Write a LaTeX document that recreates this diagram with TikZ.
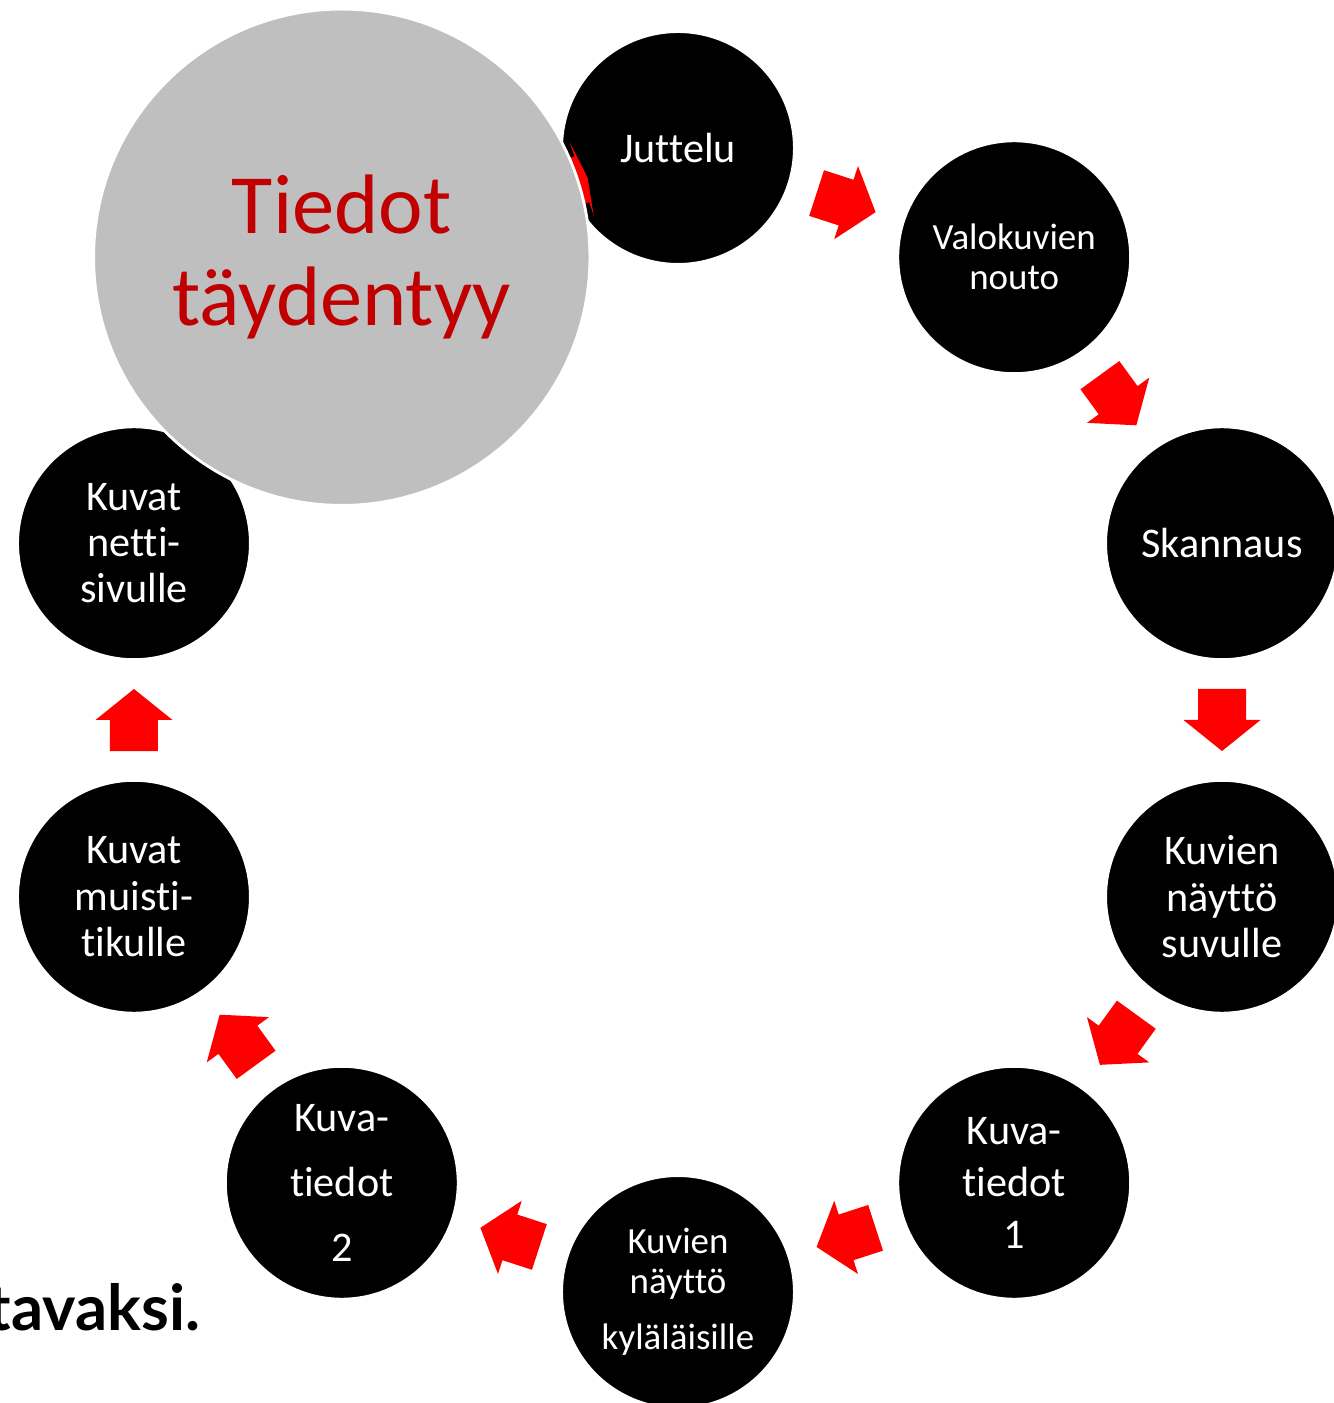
\documentclass[tikz,border=0pt]{standalone}
\usepackage{fontspec}
\setmainfont{Carlito}[Ligatures={NoCommon}]
\newfontfamily\latofont{Lato}
\usepackage{xcolor}
\definecolor{nuolired}{HTML}{FF0000}
\definecolor{tietoharmaa}{HTML}{BFBFBF}
\definecolor{tietopuna}{HTML}{C00000}

\begin{document}
\begin{tikzpicture}[x=0.01cm,y=0.01cm,
	vaihe/.style={shape=circle,fill=black,draw=white,line width=0.6pt,minimum size=2.32cm,inner sep=0pt,text=white,align=center},
	nuoli/.pic={\fill[nuolired] (-31,-24) -- (0,-24) -- (0,-38.5) -- (31,0) -- (0,38.5) -- (0,24) -- (-31,24) -- cycle;},
	ohutnuoli/.pic={\fill[nuolired] (-6,-24) -- (0,-24) -- (0,-38.5) -- (6,0) -- (0,38.5) -- (0,24) -- (-6,24) -- cycle;}]
			\useasboundingbox (-678,-683) rectangle (656,720);
			\clip (-678,-683) rectangle (656,720);
			\node[vaihe,font=\fontsize{12}{14}\selectfont] (juttelu) at (90:572) {Juttelu};
			\node[vaihe,font=\fontsize{10.5}{11.4}\selectfont] (nouto) at (54:572) {Valokuvien\\nouto};
			\node[vaihe,font=\fontsize{12}{14}\selectfont] (skannaus) at (18:572) {Skannaus};
			\node[vaihe,font=\fontsize{12}{13.2}\selectfont] (suku) at (-18:572) {Kuvien\\näyttö\\suvulle};
			\node[vaihe,font=\fontsize{12}{14.8}\selectfont] (tiedot-1) at (-54:572) {Kuva-\\tiedot\\1};
			\node[vaihe,font=\fontsize{10.5}{11.4}\selectfont] (kyla) at (-90:572) {Kuvien\\näyttö\\[4.5pt]kyläläisille};
			\node[vaihe,font=\fontsize{12}{18.5}\selectfont] (tiedot-2) at (-126:572) {Kuva-\\tiedot\\2};
			\node[vaihe,font=\fontsize{12}{13.2}\selectfont] (tikku) at (-162:572) {Kuvat\\muisti-\\tikulle};
			\node[vaihe,font=\fontsize{12}{13.1}\selectfont] (netti) at (162:572) {Kuvat\\netti-\\sivulle};
			\coordinate (taydentyy-keski) at (126:572);
			\path (juttelu) -- (nouto) pic[pos=0.5,sloped,allow upside down] {nuoli};
			\path (nouto) -- (skannaus) pic[pos=0.5,sloped,allow upside down] {nuoli};
			\path (skannaus) -- (suku) pic[pos=0.5,sloped,allow upside down] {nuoli};
			\path (suku) -- (tiedot-1) pic[pos=0.5,sloped,allow upside down] {nuoli};
			\path (tiedot-1) -- (kyla) pic[pos=0.5,sloped,allow upside down] {nuoli};
			\path (kyla) -- (tiedot-2) pic[pos=0.5,sloped,allow upside down] {nuoli};
			\path (tiedot-2) -- (tikku) pic[pos=0.5,sloped,allow upside down] {nuoli};
			\path (tikku) -- (netti) pic[pos=0.5,sloped,allow upside down] {nuoli};
			\path (taydentyy-keski) -- (juttelu.center) pic[pos=0.714,sloped,allow upside down] {ohutnuoli};
			
			\node[shape=circle,fill=tietoharmaa,draw=white,line width=0.8pt,minimum size=4.96cm,inner sep=0pt,
				text=tietopuna,align=center,font=\fontsize{24}{26.2}\selectfont] (taydentyy) at (taydentyy-keski) {Tiedot\\täydentyy};
			\node[anchor=base east,inner sep=0pt,font=\latofont\bfseries\fontsize{18}{22}\selectfont] (tavaksi) at (-477,-610) {tavaksi.};
\end{tikzpicture}
\end{document}
